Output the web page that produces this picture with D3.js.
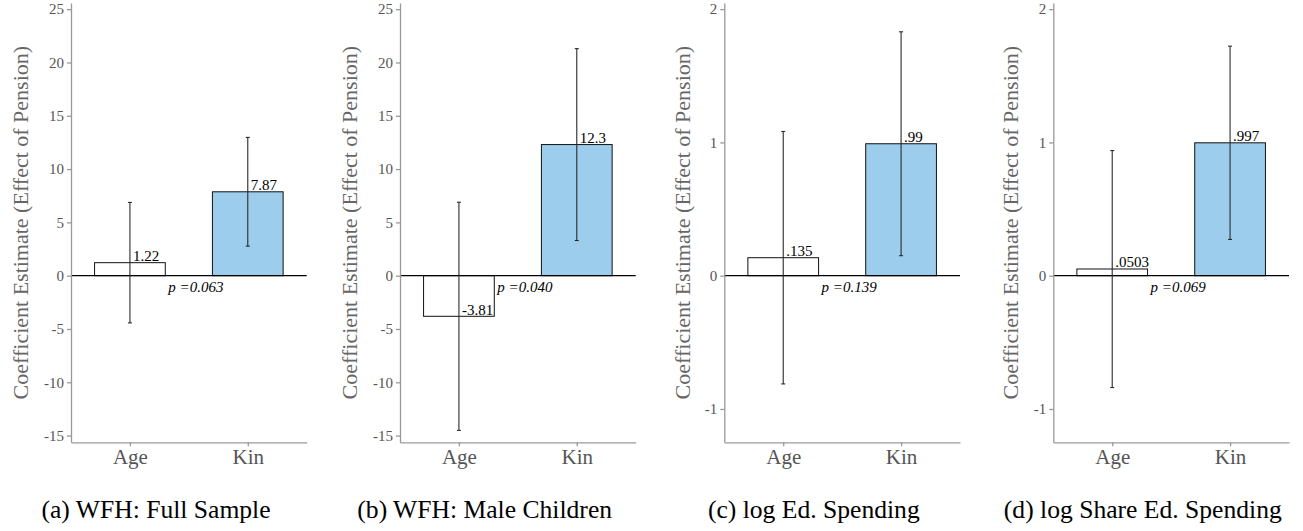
<!DOCTYPE html>
<html>
<head>
<meta charset="utf-8">
<script src="https://cdn.jsdelivr.net/npm/d3@7"></script>
<style>
  body { margin: 0; background: #fff; }
  svg { display: block; }
  svg text { font-family: "Liberation Serif", "DejaVu Serif"; }
</style>
</head>
<body>
<script>

// data
var categories = ["Age", "Kin"];
var captions = ["(a) WFH: Full Sample", "(b) WFH: Male Children", "(c) log Ed. Spending", "(d) log Share Ed. Spending"];
var estimates = [[1.22, 7.87], [-3.81, 12.3], [0.135, 0.99], [0.0503, 0.997]];
var lowers = [[-4.43, 2.77], [-14.51, 3.3], [-0.812, 0.15], [-0.839, 0.272]];
var uppers = [[6.87, 12.97], [6.89, 21.3], [1.082, 1.83], [0.939, 1.722]];
var valueLabels = [["1.22", "7.87"], ["-3.81", "12.3"], [".135", ".99"], [".0503", ".997"]];
var pLabels = ["p =0.063", "p =0.040", "p =0.139", "p =0.069"];
var yTicks = [[-15, -10, -5, 0, 5, 10, 15, 20, 25], [-15, -10, -5, 0, 5, 10, 15, 20, 25], [-1, 0, 1, 2], [-1, 0, 1, 2]];
var yDomains = [[-15.63, 25.58], [-15.63, 25.58], [-1.25, 2.046], [-1.25, 2.046]];

var fills = ["#ffffff", "#9dcdec"];

var W = 1303, H = 531;
var plotTop = 3, plotBottom = 442.3, plotWidth = 235.7;
var axisLeft = [71, 400, 724.3, 1053.3];
var titleX = [28.3, 356.7, 690, 1018.3];
var captionX = [156, 484.7, 813.8, 1142.8];

var svg = d3.select("body")
    .append("svg")
        .attr("width", W)
        .attr("height", H);

captions.forEach(function (cap, i) {

    var x = d3.scaleLinear()
        .domain([0.5, 2.5])
        .range([axisLeft[i], axisLeft[i] + plotWidth]);

    var y = d3.scaleLinear()
        .domain(yDomains[i])
        .range([plotBottom, plotTop]);

    var g = svg.append("g");

    var rows = categories.map(function (c, j) {
        return { pos: j + 1, cat: c, est: estimates[i][j], lo: lowers[i][j], hi: uppers[i][j], label: valueLabels[i][j], fill: fills[j] };
    });

    // bars
    g.selectAll("rect.bar")
        .data(rows)
        .enter()
        .append("rect")
            .attr("class", "bar")
            .attr("x", function (d) { return x(d.pos - 0.3); })
            .attr("width", x(1.3) - x(0.7))
            .attr("y", function (d) { return y(Math.max(0, d.est)); })
            .attr("height", function (d) { return Math.abs(y(d.est) - y(0)); })
            .attr("fill", function (d) { return d.fill; })
            .attr("stroke", "#111")
            .attr("stroke-width", 1);

    // zero line
    g.append("line")
        .attr("x1", x(0.5))
        .attr("x2", x(2.5))
        .attr("y1", y(0))
        .attr("y2", y(0))
        .attr("stroke", "#000")
        .attr("stroke-width", 1.3);

    // error bars
    var eb = g.selectAll("g.eb")
        .data(rows)
        .enter()
        .append("g")
            .attr("class", "eb")
            .attr("stroke", "#2a2a2a")
            .attr("stroke-width", 1.1);

    eb.append("line")
        .attr("x1", function (d) { return x(d.pos); })
        .attr("x2", function (d) { return x(d.pos); })
        .attr("y1", function (d) { return y(d.lo); })
        .attr("y2", function (d) { return y(d.hi); });

    eb.append("line")
        .attr("x1", function (d) { return x(d.pos) - 2; })
        .attr("x2", function (d) { return x(d.pos) + 2; })
        .attr("y1", function (d) { return y(d.hi); })
        .attr("y2", function (d) { return y(d.hi); });

    eb.append("line")
        .attr("x1", function (d) { return x(d.pos) - 2; })
        .attr("x2", function (d) { return x(d.pos) + 2; })
        .attr("y1", function (d) { return y(d.lo); })
        .attr("y2", function (d) { return y(d.lo); });

    // value labels
    g.selectAll("text.val")
        .data(rows)
        .enter()
        .append("text")
            .attr("class", "val")
            .attr("x", function (d) { return x(d.pos) + 3; })
            .attr("y", function (d) { return y(d.est) - 1.5; })
            .style("font-size", "15px")
            .style("fill", "#000")
            .text(function (d) { return d.label; });

    // p-value
    g.append("text")
        .attr("x", x(1.3) + 3)
        .attr("y", y(0) + 16.5)
        .style("font-style", "italic")
        .style("font-size", "15px")
        .style("fill", "#000")
        .text(pLabels[i]);

    // y axis (hyphen minus, as in the figure)
    var ya = g.append("g")
        .attr("transform", "translate(" + axisLeft[i] + ",0)")
        .call(d3.axisLeft(y).tickValues(yTicks[i]).tickSize(4).tickSizeOuter(0).tickPadding(3)
            .tickFormat(function (v) { return String(v); }));

    ya.selectAll("text")
        .style("font-size", "15px")
        .style("fill", "#555");

    // x axis
    var xa = g.append("g")
        .attr("transform", "translate(0," + plotBottom + ")")
        .call(d3.axisBottom(x).tickValues([1, 2]).tickSize(4).tickSizeOuter(0).tickPadding(3)
            .tickFormat(function (v) { return categories[v - 1]; }));

    xa.selectAll("text")
        .style("font-size", "21px")
        .style("fill", "#555");

    ya.attr("font-family", null);
    xa.attr("font-family", null);

    g.selectAll(".domain, .tick line")
        .attr("stroke", "#999")
        .attr("stroke-width", 1.3);

    // y title
    g.append("text")
        .attr("transform", "translate(" + titleX[i] + "," + ((plotTop + plotBottom) / 2) + ") rotate(-90)")
        .attr("text-anchor", "middle")
        .style("font-size", "22px")
        .style("fill", "#666")
        .text("Coefficient Estimate (Effect of Pension)");

    // caption
    svg.append("text")
        .attr("x", captionX[i])
        .attr("y", 518)
        .attr("text-anchor", "middle")
        .style("font-size", "25.6px")
        .style("fill", "#000")
        .text(cap);
});

</script>
</body>
</html>
